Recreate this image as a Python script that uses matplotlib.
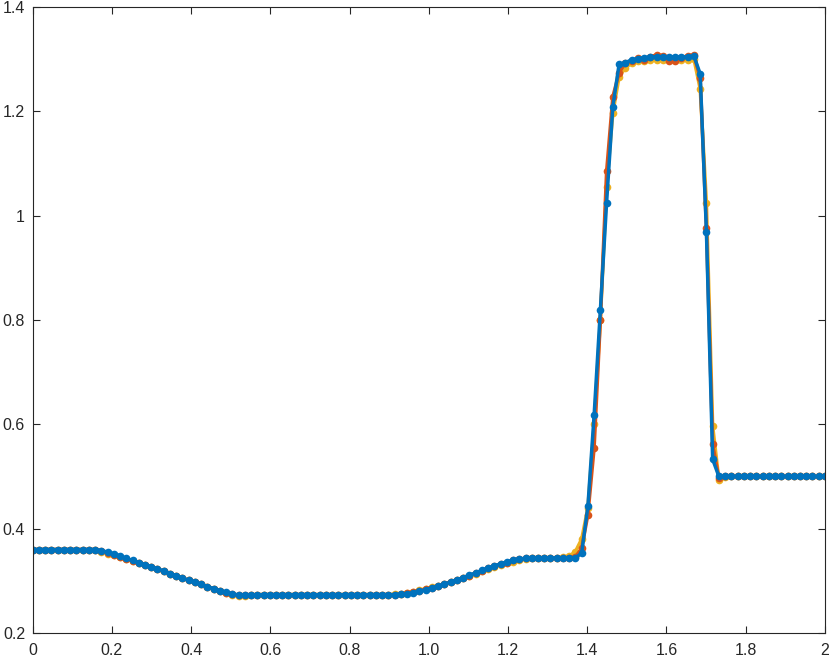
import numpy as np
import matplotlib.pyplot as plt

# 128 grid points on [0, 2]
x = np.linspace(0, 2, 128)

rho_blue = [
    0.360, 0.360, 0.360, 0.360, 0.360, 0.360, 0.360, 0.360, 0.360, 0.360,
    0.360, 0.358, 0.355, 0.352, 0.348, 0.343, 0.339, 0.335, 0.331, 0.327,
    0.323, 0.319, 0.314, 0.310, 0.305, 0.301, 0.297, 0.293, 0.289, 0.285,
    0.281, 0.278, 0.275, 0.273, 0.2725, 0.273, 0.2735, 0.2735, 0.2735, 0.2735,
    0.2735, 0.2735, 0.2735, 0.2735, 0.2735, 0.2735, 0.2735, 0.2735, 0.2735, 0.2735,
    0.2735, 0.2735, 0.2735, 0.2735, 0.2735, 0.2735, 0.2735, 0.2735, 0.2735, 0.274,
    0.275, 0.277, 0.280, 0.283, 0.286, 0.290, 0.293, 0.298, 0.302, 0.306,
    0.311, 0.315, 0.320, 0.325, 0.328, 0.333, 0.336, 0.340, 0.342, 0.343,
    0.344, 0.344, 0.344, 0.344, 0.344, 0.344, 0.344, 0.344, 0.353, 0.443,
    0.618, 0.819, 1.025, 1.209, 1.290, 1.293, 1.299, 1.301, 1.303, 1.304,
    1.305, 1.304, 1.305, 1.304, 1.305, 1.304, 1.306, 1.272, 0.969, 0.533,
    0.500, 0.500, 0.500, 0.500, 0.500, 0.500, 0.500, 0.500, 0.500, 0.500,
    0.500, 0.500, 0.500, 0.500, 0.500, 0.500, 0.500, 0.500,
]

rho_orange = [
    0.360, 0.360, 0.360, 0.360, 0.360, 0.360, 0.360, 0.360, 0.360, 0.360,
    0.360, 0.357, 0.353, 0.350, 0.346, 0.342, 0.338, 0.334, 0.330, 0.326,
    0.322, 0.318, 0.314, 0.309, 0.305, 0.301, 0.297, 0.293, 0.289, 0.285,
    0.281, 0.277, 0.274, 0.2725, 0.272, 0.2725, 0.2735, 0.2735, 0.2735, 0.2735,
    0.2735, 0.2735, 0.2735, 0.2735, 0.2735, 0.2735, 0.2735, 0.2735, 0.2735, 0.2735,
    0.2735, 0.2735, 0.2735, 0.2735, 0.2735, 0.2735, 0.2735, 0.2735, 0.2735, 0.274,
    0.276, 0.278, 0.281, 0.284, 0.287, 0.290, 0.294, 0.298, 0.302, 0.306,
    0.310, 0.315, 0.319, 0.324, 0.328, 0.332, 0.335, 0.339, 0.341, 0.343,
    0.344, 0.344, 0.344, 0.344, 0.344, 0.344, 0.344, 0.346, 0.362, 0.427,
    0.555, 0.800, 1.085, 1.228, 1.274, 1.293, 1.296, 1.302, 1.298, 1.305,
    1.308, 1.307, 1.296, 1.297, 1.302, 1.307, 1.308, 1.264, 0.976, 0.5615,
    0.497, 0.500, 0.500, 0.500, 0.500, 0.500, 0.500, 0.500, 0.500, 0.500,
    0.500, 0.500, 0.500, 0.500, 0.500, 0.500, 0.500, 0.500,
]

rho_yellow = [
    0.360, 0.360, 0.360, 0.360, 0.360, 0.360, 0.360, 0.360, 0.360, 0.360,
    0.360, 0.356, 0.352, 0.349, 0.346, 0.342, 0.338, 0.334, 0.330, 0.326,
    0.322, 0.318, 0.313, 0.309, 0.305, 0.301, 0.297, 0.293, 0.289, 0.285,
    0.281, 0.277, 0.2735, 0.2715, 0.2715, 0.272, 0.2735, 0.2735, 0.2735, 0.2735,
    0.2735, 0.2735, 0.2735, 0.2735, 0.2735, 0.2735, 0.2735, 0.2735, 0.2735, 0.2735,
    0.2735, 0.2735, 0.2735, 0.2735, 0.2735, 0.2735, 0.2735, 0.2735, 0.274, 0.275,
    0.277, 0.279, 0.282, 0.285, 0.288, 0.291, 0.294, 0.298, 0.302, 0.306,
    0.310, 0.314, 0.318, 0.322, 0.327, 0.331, 0.334, 0.337, 0.340, 0.342,
    0.343, 0.344, 0.344, 0.344, 0.344, 0.345, 0.347, 0.356, 0.380, 0.440,
    0.600, 0.800, 1.055, 1.197, 1.266, 1.284, 1.292, 1.296, 1.297, 1.298,
    1.298, 1.299, 1.298, 1.298, 1.299, 1.298, 1.300, 1.243, 1.025, 0.597,
    0.494, 0.499, 0.500, 0.500, 0.500, 0.500, 0.500, 0.500, 0.500, 0.500,
    0.500, 0.500, 0.500, 0.500, 0.500, 0.500, 0.500, 0.500,
]

xticks = [0, 0.2, 0.4, 0.6, 0.8, 1.0, 1.2, 1.4, 1.6, 1.8, 2]
xtick_labels = ['0', '0.2', '0.4', '0.6', '0.8', '1.0', '1.2', '1.4', '1.6', '1.8', '2']
yticks = [0.2, 0.4, 0.6, 0.8, 1.0, 1.2, 1.4]
ytick_labels = ['0.2', '0.4', '0.6', '0.8', '1', '1.2', '1.4']

plt.rcParams['font.family'] = ['Liberation Sans', 'DejaVu Sans']

fig = plt.figure(figsize=(8.3, 6.61), dpi=100)
ax = fig.add_axes([0.0394, 0.0424, 0.9545, 0.947])

# matlab default colours, blue drawn last so it sits on top
for y, c in [(rho_yellow, '#EDB120'), (rho_orange, '#D95319'), (rho_blue, '#0072BD')]:
    ax.plot(x, y, '-o', color=c, linewidth=2.5, markersize=5.5, markeredgewidth=0)

ax.set_xlim(0, 2)
ax.set_ylim(0.2, 1.4)
ax.set_xticks(xticks)
ax.set_xticklabels(xtick_labels)
ax.set_yticks(yticks)
ax.set_yticklabels(ytick_labels)

axcol = '#262626'
for s in ax.spines.values():
    s.set_color(axcol)
    s.set_linewidth(0.8)
ax.tick_params(direction='in', length=5, width=0.8, color=axcol, labelcolor=axcol,
               labelsize=11.5, top=True, right=True)
ax.tick_params(axis='x', pad=7)
ax.tick_params(axis='y', pad=5.5)

fig.savefig('out.png', dpi=100)
